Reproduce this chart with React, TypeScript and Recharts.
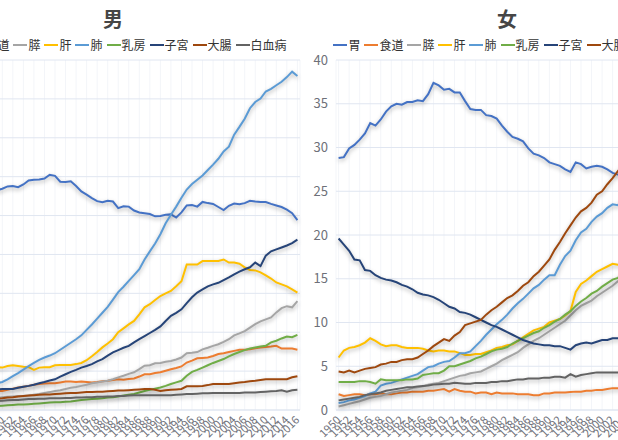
import React from 'react';
import { LineChart, Line, XAxis, YAxis, CartesianGrid } from 'recharts';

// categories
const years = Array.from({ length: 67 }, (_, i) => String(1950 + i));

const seriesKeys = ['stomach', 'esophagus', 'pancreas', 'liver', 'lung', 'breast', 'uterus', 'colon', 'leukemia'];
const seriesNames = ['胃', '食道', '膵', '肝', '肺', '乳房', '子宮', '大腸', '白血病'];
const seriesColors = ['#4472C4', '#ED7D31', '#A5A5A5', '#FFC000', '#5B9BD5', '#70AD47', '#264478', '#9E480E', '#636363'];

// 男 (1950-2016)
const maleStomach = [48.0, 49.5, 50.5, 51.5, 52.5, 53.5, 54.5, 55.0, 55.8, 56.5, 56.9, 57.5, 57.6, 57.3, 58.0, 59.0, 59.2, 59.3, 59.5, 60.5, 60.2, 58.7, 58.6, 58.8, 57.6, 56.2, 55.4, 54.5, 53.7, 53.4, 53.8, 53.6, 51.9, 52.4, 52.3, 51.3, 50.8, 50.6, 50.4, 49.8, 49.9, 50.2, 50.3, 49.5, 50.8, 52.6, 52.7, 52.3, 53.5, 53.2, 53.0, 52.2, 51.4, 52.5, 53.1, 52.9, 53.2, 53.8, 53.6, 53.5, 53.5, 53.0, 52.6, 52.2, 51.5, 50.6, 48.8];
const maleEsophagus = [4.3, 4.4, 4.5, 4.5, 4.6, 4.7, 4.7, 4.8, 4.8, 4.9, 4.9, 5.2, 5.5, 5.8, 6.0, 6.2, 6.5, 6.7, 6.8, 6.9, 6.9, 7.1, 7.3, 7.3, 7.2, 7.3, 7.2, 7.1, 7.2, 7.4, 7.5, 7.7, 7.9, 7.8, 8.0, 8.1, 8.6, 9.2, 9.2, 9.5, 9.7, 10.1, 10.5, 10.8, 11.2, 12.2, 12.7, 13.3, 13.4, 13.5, 13.9, 14.4, 14.6, 14.9, 15.2, 15.5, 15.5, 15.6, 15.9, 16.1, 16.2, 16.3, 16.5, 15.8, 15.8, 15.8, 15.5];
const malePancreas = [0.8, 1.0, 1.2, 1.4, 1.6, 1.9, 2.2, 2.5, 2.8, 3.1, 3.3, 3.4, 3.5, 3.6, 3.6, 3.7, 3.9, 4.1, 4.4, 4.6, 4.9, 5.1, 5.4, 5.7, 5.9, 6.2, 6.5, 6.9, 7.1, 7.3, 7.5, 7.9, 8.4, 8.8, 9.3, 9.7, 10.5, 11.4, 11.5, 12.0, 12.1, 12.4, 12.6, 13.0, 13.5, 14.6, 14.7, 14.9, 15.6, 16.0, 16.5, 16.9, 17.5, 18.2, 19.2, 19.7, 20.3, 21.2, 22.1, 22.8, 23.3, 23.8, 25.1, 26.2, 26.7, 26.4, 28.0];
const maleLiver = [10.2, 10.4, 10.5, 10.7, 10.8, 11.0, 11.2, 11.3, 11.1, 11.0, 10.9, 11.3, 11.5, 11.3, 11.1, 11.0, 10.3, 10.9, 11.0, 11.0, 11.5, 11.6, 11.6, 11.6, 11.8, 12.1, 12.8, 13.8, 14.9, 16.1, 17.1, 18.2, 20.0, 21.0, 22.0, 22.9, 24.6, 26.4, 27.2, 28.3, 29.3, 30.0, 30.6, 31.8, 33.1, 37.4, 37.4, 37.4, 38.3, 38.3, 38.3, 38.3, 38.7, 37.9, 37.9, 37.6, 36.7, 36.0, 35.9, 35.4, 34.6, 33.8, 32.8, 32.3, 31.8, 31.0, 30.2];
const maleLung = [2.5, 2.9, 3.3, 3.8, 4.2, 4.8, 5.3, 5.8, 6.4, 6.9, 7.2, 7.9, 8.7, 9.5, 10.4, 11.3, 12.1, 12.9, 13.5, 14.0, 14.6, 15.5, 16.4, 17.3, 18.2, 19.2, 20.6, 22.0, 23.5, 25.0, 26.5, 28.4, 30.3, 31.7, 33.2, 34.7, 36.2, 38.7, 40.8, 42.8, 45.2, 48.0, 50.2, 52.3, 54.6, 56.7, 58.1, 59.2, 60.3, 61.7, 63.1, 64.6, 66.5, 67.7, 70.8, 72.8, 74.9, 77.6, 79.2, 80.1, 81.9, 82.6, 83.5, 84.4, 85.6, 87.0, 85.9];
const maleBreast = [0.6, 0.6, 0.7, 0.7, 0.8, 0.8, 0.9, 0.9, 1.0, 1.0, 1.1, 1.2, 1.3, 1.4, 1.4, 1.5, 1.6, 1.7, 1.8, 1.9, 2.0, 2.0, 2.1, 2.2, 2.4, 2.6, 2.7, 2.8, 2.9, 3.0, 3.2, 3.3, 3.5, 3.7, 3.9, 4.1, 4.5, 4.9, 5.2, 5.5, 5.8, 6.2, 6.7, 7.1, 7.5, 8.8, 9.8, 10.3, 10.9, 11.5, 12.1, 12.6, 13.1, 13.8, 14.4, 14.9, 15.4, 15.8, 16.1, 16.3, 16.5, 17.4, 17.8, 18.4, 18.9, 18.7, 19.3];
const maleUterus = [3.6, 3.8, 4.0, 4.2, 4.4, 4.6, 4.8, 5.0, 5.1, 5.3, 5.4, 5.4, 5.4, 5.7, 6.0, 6.2, 6.5, 6.9, 7.2, 7.6, 7.9, 8.6, 9.2, 9.8, 10.3, 10.9, 11.3, 11.8, 12.5, 13.1, 14.0, 14.8, 15.4, 16.0, 16.5, 17.4, 18.2, 19.0, 19.8, 20.6, 21.5, 22.9, 24.2, 25.0, 25.9, 27.5, 29.0, 30.2, 31.0, 31.8, 32.3, 32.7, 33.4, 34.1, 34.9, 35.6, 36.2, 36.7, 37.9, 37.0, 39.7, 40.8, 41.3, 41.8, 42.3, 42.9, 43.8];
const maleColon = [1.8, 1.9, 2.1, 2.2, 2.3, 2.5, 2.6, 2.7, 2.8, 2.9, 3.0, 3.2, 3.3, 3.5, 3.6, 3.7, 3.8, 3.9, 4.0, 4.0, 4.1, 4.2, 4.3, 4.4, 4.4, 4.5, 4.6, 4.6, 4.7, 4.7, 4.8, 4.9, 5.0, 5.0, 5.1, 5.2, 5.3, 5.4, 5.4, 5.2, 4.9, 5.1, 5.2, 5.3, 5.4, 6.1, 6.1, 6.1, 6.2, 6.4, 6.7, 6.7, 6.7, 6.7, 6.9, 7.1, 7.2, 7.4, 7.5, 7.7, 7.9, 7.9, 7.9, 7.9, 7.9, 8.4, 8.7];
const maleLeukemia = [1.2, 1.3, 1.4, 1.5, 1.6, 1.8, 1.9, 2.0, 2.2, 2.3, 2.4, 2.5, 2.6, 2.6, 2.7, 2.8, 2.8, 2.9, 2.9, 3.0, 3.0, 3.0, 3.1, 3.1, 3.2, 3.2, 3.3, 3.3, 3.4, 3.4, 3.5, 3.5, 3.6, 3.6, 3.7, 3.8, 3.8, 3.8, 3.8, 3.8, 3.8, 3.8, 3.8, 3.9, 4.0, 4.1, 4.1, 4.2, 4.3, 4.3, 4.4, 4.4, 4.4, 4.4, 4.4, 4.4, 4.5, 4.5, 4.5, 4.6, 4.7, 4.8, 4.9, 5.1, 4.7, 5.1, 5.2];

// 女 (1950-2016)
const femaleStomach = [28.8, 28.9, 29.9, 30.3, 30.9, 31.6, 32.8, 32.5, 33.2, 34.1, 34.7, 35.0, 34.9, 35.2, 35.2, 35.4, 35.3, 36.1, 37.4, 37.1, 36.6, 36.7, 36.3, 36.3, 35.3, 34.4, 34.3, 34.3, 33.7, 33.6, 33.3, 32.5, 31.8, 31.2, 31.0, 30.7, 29.9, 29.3, 29.1, 28.8, 28.3, 28.1, 27.9, 27.5, 27.2, 28.3, 28.1, 27.6, 27.8, 27.9, 27.8, 27.5, 27.1, 26.9, 26.7, 26.6, 26.3, 26.2, 26.0, 25.7, 25.5, 25.4, 25.2, 24.8, 24.6, 24.3, 23.8];
const femaleEsophagus = [1.8, 1.6, 1.7, 1.8, 1.8, 1.7, 1.8, 1.8, 1.9, 1.8, 1.8, 1.9, 2.0, 2.0, 2.1, 2.1, 2.1, 2.2, 2.2, 2.3, 2.4, 2.1, 2.4, 2.2, 2.1, 2.1, 1.9, 2.0, 2.0, 1.8, 2.0, 1.9, 1.9, 1.9, 1.8, 1.8, 1.8, 1.7, 1.7, 1.9, 1.9, 2.0, 2.0, 2.0, 2.05, 2.1, 2.1, 2.2, 2.2, 2.3, 2.3, 2.4, 2.5, 2.5, 2.5, 2.6, 2.6, 2.7, 2.7, 2.8, 2.8, 2.9, 2.9, 3.0, 3.0, 3.1, 3.2];
const femalePancreas = [0.4, 0.55, 0.7, 0.85, 1.0, 1.2, 1.4, 1.5, 1.6, 1.8, 2.0, 2.1, 2.2, 2.3, 2.5, 2.6, 2.7, 2.9, 3.0, 3.1, 3.3, 3.5, 3.7, 3.9, 4.0, 4.2, 4.3, 4.4, 4.7, 5.0, 5.3, 5.7, 6.0, 6.3, 6.6, 7.1, 7.5, 7.9, 8.2, 8.6, 9.0, 9.4, 9.8, 10.2, 10.8, 11.4, 11.9, 12.2, 12.5, 13.0, 13.4, 13.8, 14.2, 14.7, 15.3, 16.0, 16.8, 17.5, 18.3, 19.0, 19.9, 20.7, 21.5, 22.5, 23.4, 24.3, 25.3];
const femaleLiver = [6.0, 6.8, 7.1, 7.2, 7.4, 7.7, 8.2, 7.9, 7.5, 7.3, 7.4, 7.4, 7.2, 7.1, 7.1, 7.1, 7.0, 6.8, 6.7, 6.8, 6.8, 6.7, 6.7, 6.5, 6.3, 6.3, 6.4, 6.4, 6.6, 6.8, 7.1, 7.2, 7.4, 7.5, 7.9, 8.3, 8.7, 9.1, 9.3, 9.5, 10.0, 10.2, 10.4, 10.8, 11.3, 13.5, 14.4, 14.8, 15.3, 15.8, 16.1, 16.4, 16.7, 16.6, 16.7, 16.8, 16.6, 16.5, 16.4, 16.6, 16.7, 16.6, 16.4, 16.0, 15.9, 15.6, 15.3];
const femaleLung = [0.8, 0.9, 1.1, 1.2, 1.4, 1.6, 1.9, 2.1, 2.8, 3.0, 3.1, 3.3, 3.5, 3.7, 3.9, 4.1, 4.5, 4.9, 5.0, 5.3, 5.5, 5.6, 6.0, 6.5, 6.5, 6.7, 7.3, 7.9, 8.6, 9.2, 9.8, 10.3, 10.9, 11.6, 12.2, 12.7, 13.3, 13.9, 14.3, 14.9, 15.4, 15.4, 16.6, 17.6, 18.2, 19.4, 20.3, 20.7, 21.5, 22.1, 22.5, 23.1, 23.5, 23.4, 24.2, 24.9, 25.5, 26.3, 27.0, 27.7, 28.6, 29.3, 30.2, 31.0, 31.7, 32.4, 33.2];
const femaleBreast = [3.2, 3.2, 3.2, 3.2, 3.3, 3.3, 3.2, 3.0, 3.5, 3.4, 3.4, 3.4, 3.4, 3.5, 3.5, 3.6, 4.0, 4.1, 4.2, 4.2, 4.5, 5.0, 5.0, 5.2, 5.4, 5.6, 5.9, 6.1, 6.4, 6.7, 6.9, 7.0, 7.2, 7.6, 7.9, 8.2, 8.5, 8.8, 9.0, 9.4, 9.7, 10.1, 10.4, 10.9, 11.3, 11.9, 12.4, 12.8, 13.3, 13.6, 14.1, 14.5, 14.9, 15.1, 15.6, 16.2, 16.8, 17.3, 17.8, 18.3, 19.0, 19.5, 20.1, 20.8, 21.2, 21.7, 22.3];
const femaleUterus = [19.6, 18.9, 18.2, 17.2, 17.1, 16.0, 15.9, 15.4, 15.1, 14.9, 14.8, 14.6, 14.3, 14.1, 13.8, 13.4, 13.2, 13.1, 12.9, 12.6, 12.2, 11.8, 11.6, 11.2, 11.1, 10.9, 10.6, 10.3, 10.0, 9.7, 9.5, 9.2, 8.9, 8.6, 8.3, 8.0, 7.8, 7.6, 7.5, 7.4, 7.4, 7.3, 7.3, 7.1, 6.9, 7.4, 7.6, 7.7, 7.6, 7.8, 8.0, 8.0, 8.2, 8.2, 8.3, 8.5, 8.6, 8.8, 8.9, 9.0, 9.3, 9.4, 9.6, 9.9, 9.9, 10.2, 10.3];
const femaleColon = [4.4, 4.3, 4.5, 4.3, 4.5, 4.7, 4.8, 4.9, 5.2, 5.3, 5.5, 5.5, 5.7, 5.8, 5.8, 6.0, 6.4, 6.8, 7.3, 7.7, 8.1, 7.9, 8.5, 8.9, 9.7, 9.9, 10.1, 10.3, 10.9, 11.4, 11.8, 12.3, 12.8, 13.1, 13.6, 14.2, 14.6, 15.3, 15.8, 16.5, 17.2, 18.3, 19.2, 20.2, 21.1, 22.0, 22.7, 23.1, 23.7, 24.6, 25.0, 25.8, 26.5, 27.3, 28.0, 28.8, 29.6, 30.4, 31.2, 31.7, 32.4, 33.0, 33.7, 34.4, 35.0, 35.6, 36.1];
const femaleLeukemia = [1.1, 1.2, 1.3, 1.4, 1.5, 1.7, 1.8, 1.9, 2.0, 2.2, 2.3, 2.4, 2.5, 2.6, 2.6, 2.7, 2.75, 2.8, 2.9, 2.95, 3.0, 3.0, 3.1, 3.05, 3.0, 3.0, 3.1, 3.1, 3.1, 3.2, 3.2, 3.3, 3.3, 3.4, 3.5, 3.5, 3.6, 3.6, 3.6, 3.7, 3.7, 3.8, 3.8, 3.7, 4.1, 3.8, 4.0, 4.1, 4.2, 4.3, 4.3, 4.3, 4.3, 4.3, 4.4, 4.4, 4.5, 4.6, 4.6, 4.7, 4.8, 4.8, 4.9, 5.0, 5.1, 5.1, 5.2];

const maleTicks = [0, 10, 20, 30, 40, 50, 60, 70, 80, 90];
const femaleTicks = [0, 5, 10, 15, 20, 25, 30, 35, 40];

const buildRows = (cols: number[][]) =>
  years.map((year, i) => {
    const row: Record<string, string | number> = { year };
    seriesKeys.forEach((k, j) => { row[k] = cols[j][i]; });
    return row;
  });

const maleRows = buildRows([maleStomach, maleEsophagus, malePancreas, maleLiver, maleLung, maleBreast, maleUterus, maleColon, maleLeukemia]);
const femaleRows = buildRows([femaleStomach, femaleEsophagus, femalePancreas, femaleLiver, femaleLung, femaleBreast, femaleUterus, femaleColon, femaleLeukemia]);

const FONT = '"Noto Sans CJK JP", "Noto Sans", sans-serif';
const CHART_W = 394;
const CHART_H = 440;

const YearTick = (props: any) => {
  const { x, y, payload } = props;
  return (
    <text
      x={x}
      y={y}
      dy="0.35em"
      transform={`rotate(-45, ${x}, ${y})`}
      textAnchor="end"
      fontSize={11}
      fontFamily={FONT}
      fill="#6E7079"
    >
      {payload.value}
    </text>
  );
};

const LegendRow = () => (
  <div style={{ position: 'absolute', top: 38, left: 0, width: CHART_W, height: 14, display: 'flex', justifyContent: 'center', alignItems: 'center', gap: 4, whiteSpace: 'nowrap' }}>
    {seriesNames.map((name, i) => (
      <div key={name} style={{ display: 'flex', alignItems: 'center' }}>
        <span style={{ display: 'inline-block', width: 14, height: 2.5, background: seriesColors[i], marginRight: 1 }} />
        <span style={{ fontSize: 12, lineHeight: '14px', color: '#333', fontFamily: FONT }}>{name}</span>
      </div>
    ))}
  </div>
);

interface PanelProps {
  title: string;
  rows: Record<string, string | number>[];
  yMax: number;
  ticks: number[];
  left: number;
  yAxisWidth: number;
  rightMargin: number;
}

const Panel: React.FC<PanelProps> = ({ title, rows, yMax, ticks, left, yAxisWidth, rightMargin }) => (
  <div style={{ position: 'absolute', left, top: 0, width: CHART_W, height: CHART_H }}>
    <LineChart width={CHART_W} height={CHART_H} data={rows} margin={{ top: 60, right: rightMargin, bottom: 0, left: 0 }}>
      {/* faint per-year stripes, then the value grid */}
      <CartesianGrid stroke="#F3F5F9" horizontal={false} />
      <CartesianGrid stroke="#E0E6F1" vertical={false} />
      <XAxis
        dataKey="year"
        interval={1}
        height={30}
        tick={<YearTick />}
        tickLine={false}
        axisLine={{ stroke: '#E0E6F1' }}
        padding={{ left: 2.6, right: 2.6 }}
      />
      <YAxis
        width={yAxisWidth}
        domain={[0, yMax]}
        ticks={ticks}
        interval={0}
        axisLine={false}
        tickLine={false}
        tick={{ fontSize: 13, fill: '#6E7079', fontFamily: FONT }}
      />
      {seriesKeys.map((k, i) => (
        <Line
          key={k}
          type="linear"
          dataKey={k}
          name={seriesNames[i]}
          stroke={seriesColors[i]}
          strokeWidth={2}
          dot={false}
          activeDot={false}
          isAnimationActive={false}
        />
      ))}
    </LineChart>
    <div style={{ position: 'absolute', top: 7, left: 0, width: CHART_W, textAlign: 'center', fontSize: 20, lineHeight: '24px', fontWeight: 'bold', color: '#464646', fontFamily: FONT }}>
      {title}
    </div>
    <LegendRow />
  </div>
);

export default function App() {
  return (
    <div style={{ position: 'fixed', left: 0, top: 0, width: 618, height: 440, overflow: 'hidden', background: '#fff' }}>
      <style>{'.recharts-line-curve { filter: drop-shadow(0px 2px 2px rgba(0,0,0,0.3)); }'}</style>
      <Panel title="男" rows={maleRows} yMax={90} ticks={maleTicks} left={-84} yAxisWidth={31} rightMargin={10} />
      <Panel title="女" rows={femaleRows} yMax={40} ticks={femaleTicks} left={310} yAxisWidth={26} rightMargin={15} />
    </div>
  );
}
